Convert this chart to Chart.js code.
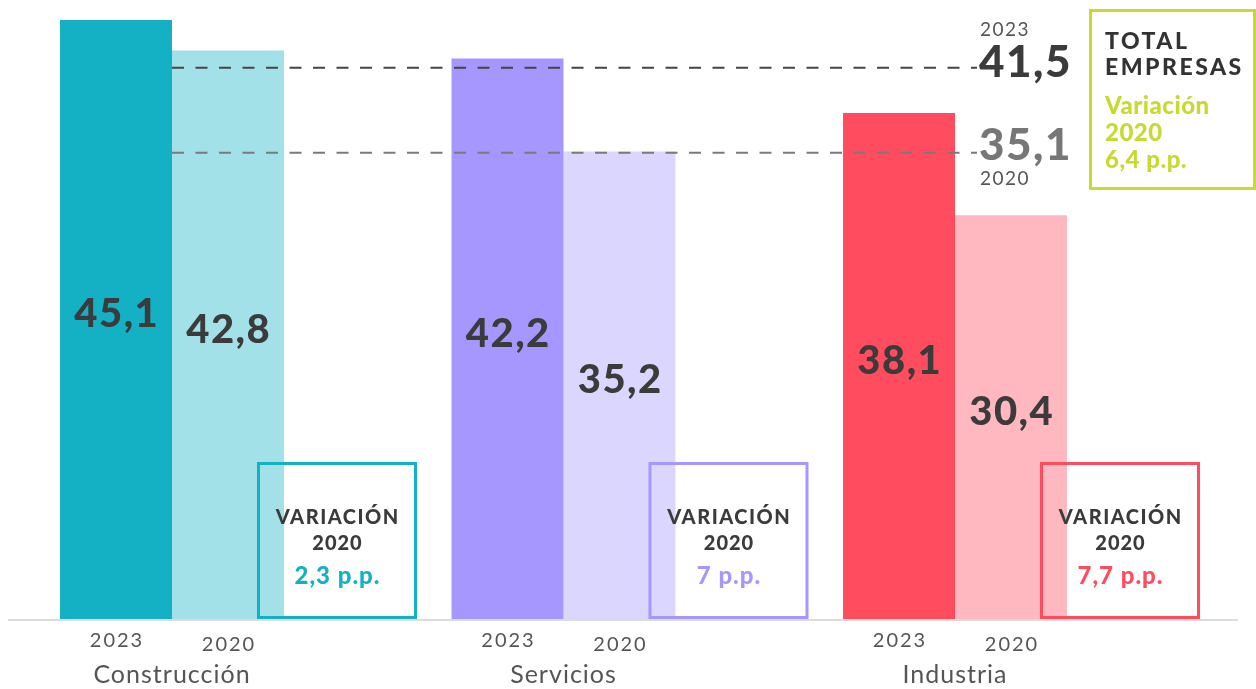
<!DOCTYPE html>
<html><head><meta charset="utf-8">
<script src="https://cdn.jsdelivr.net/npm/chart.js@4/dist/chart.umd.min.js"></script>
<style>html,body{margin:0;padding:0;background:#fff;}canvas{display:block}</style>
</head><body>
<canvas id="c" width="1256" height="689"></canvas>
<script>
const categories = ['Construcción', 'Servicios', 'Industria'];
const seriesYears = ['2023', '2020'];
const values2023 = [45.1, 42.2, 38.1];
const values2020 = [42.8, 35.2, 30.4];
const variation2020 = [2.3, 7, 7.7];
const totalYears = ['2023', '2020'];
const totalValues = [41.5, 35.1];
const totalVariation = 6.4;
const colors2023 = ['#13b1c3', '#a597ff', '#ff4c5f'];
const colors2020 = ['#a3e1e8', '#dbd6fd', '#ffb7c0'];
const totalColor = '#c6da2f';

const fmt = v => String(v).replace('.', ',');
const FAM = 'Lato, "Open Sans", sans-serif';

function txt(ctx, s, x, y, font, color, align, spacing) {
  ctx.save();
  ctx.font = font;
  ctx.fillStyle = color;
  ctx.textAlign = align || 'center';
  ctx.textBaseline = 'middle';
  ctx.letterSpacing = (spacing || 0) + 'px';
  let dx = 0;
  if ((align || 'center') === 'center' && spacing) dx = spacing / 2;
  ctx.fillText(s, x + dx, y);
  ctx.restore();
}

const overlay = {
  id: 'overlay',
  beforeDraw(chart) {
    chart.ctx.letterSpacing = '1px';
  },
  afterDraw(chart) {
    const ctx = chart.ctx;
    const xs = chart.scales.x, ys = chart.scales.y;
    const base = ys.getPixelForValue(0);
    ctx.save();
    ctx.strokeStyle = '#dcdcdc';
    ctx.lineWidth = 2;
    ctx.beginPath();
    ctx.moveTo(8, base + 1);
    ctx.lineTo(1238, base + 1);
    ctx.stroke();
    ctx.restore();

    const m0 = chart.getDatasetMeta(0), m1 = chart.getDatasetMeta(1);
    m0.data.forEach(b => txt(ctx, seriesYears[0], b.x, 641, '20px ' + FAM, '#555', 'center', 2));
    m1.data.forEach(b => txt(ctx, seriesYears[1], b.x, 645, '20px ' + FAM, '#555', 'center', 2));

    [m0, m1].forEach((m, di) => {
      const vals = di === 0 ? values2023 : values2020;
      m.data.forEach((b, i) => {
        txt(ctx, fmt(vals[i]), b.x, (b.y + b.base) / 2 - 5, '900 40px ' + FAM, '#3b3b3b', 'center', 1.5);
      });
    });

    const lineCols = ['#454545', '#7a7a7a'];
    totalValues.forEach((v, i) => {
      const y = ys.getPixelForValue(v);
      ctx.save();
      ctx.strokeStyle = lineCols[i];
      ctx.lineWidth = 2;
      ctx.setLineDash([12, 11.5]);
      ctx.beginPath();
      ctx.moveTo(xs.left, y);
      ctx.lineTo(977, y);
      ctx.stroke();
      ctx.restore();
    });
    const y23 = ys.getPixelForValue(totalValues[0]);
    const y20 = ys.getPixelForValue(totalValues[1]);
    txt(ctx, totalYears[0], 980, y23 - 38, '19px ' + FAM, '#555', 'left', 1.5);
    txt(ctx, fmt(totalValues[0]), 979, y23 - 5, '900 44px ' + FAM, '#3b3b3b', 'left', 1.5);
    txt(ctx, fmt(totalValues[1]), 979, y20 - 7, '900 44px ' + FAM, '#777', 'left', 1.5);
    txt(ctx, totalYears[1], 980, y20 + 26, '19px ' + FAM, '#555', 'left', 1.5);

    ctx.save();
    ctx.strokeStyle = totalColor;
    ctx.lineWidth = 3;
    ctx.strokeRect(1090.5, 10.5, 164, 178);
    ctx.restore();
    txt(ctx, 'TOTAL', 1105, 42, '900 23px ' + FAM, '#333', 'left', 2.5);
    txt(ctx, 'EMPRESAS', 1105, 68, '900 23px ' + FAM, '#333', 'left', 2.5);
    txt(ctx, 'Variación', 1105, 106, '900 24px ' + FAM, totalColor, 'left', 0.5);
    txt(ctx, seriesYears[1], 1105, 133, '900 24px ' + FAM, totalColor, 'left', 0.5);
    txt(ctx, fmt(totalVariation) + ' p.p.', 1105, 160, '900 24px ' + FAM, totalColor, 'left', 0.5);

    m1.data.forEach((b, i) => {
      const left = b.x + 30;
      const cx = left + 79;
      ctx.save();
      ctx.strokeStyle = colors2023[i];
      ctx.lineWidth = 3;
      ctx.strokeRect(left + 0.5, 463.5, 157, 154);
      ctx.restore();
      txt(ctx, 'VARIACIÓN', cx, 518, '900 20px ' + FAM, '#3b3b3b', 'center', 1.5);
      txt(ctx, seriesYears[1], cx, 544, '900 20px ' + FAM, '#3b3b3b', 'center', 1);
      txt(ctx, fmt(variation2020[i]) + ' p.p.', cx, 576, '900 24px ' + FAM, colors2023[i], 'center', 1);
    });
  }
};

new Chart(document.getElementById('c'), {
  type: 'bar',
  data: {
    labels: categories,
    datasets: [
      { label: seriesYears[0], data: values2023, backgroundColor: colors2023, borderWidth: 0 },
      { label: seriesYears[1], data: values2020, backgroundColor: colors2020, borderWidth: 0 }
    ]
  },
  options: {
    responsive: false,
    devicePixelRatio: 1,
    animation: false,
    layout: { padding: { left: 172, right: 301, top: 0, bottom: 0 } },
    datasets: { bar: { categoryPercentage: 0.572, barPercentage: 1, clip: false } },
    plugins: { legend: { display: false }, tooltip: { enabled: false } },
    scales: {
      x: {
        offset: false,
        grid: { display: false },
        border: { display: false },
        ticks: { padding: 33, color: '#555', font: { family: FAM, size: 25 } },
        afterFit(scale) { scale.height = 70; }
      },
      y: { display: false, min: 0, max: 46.6 }
    }
  },
  plugins: [overlay]
});
</script>
</body></html>
